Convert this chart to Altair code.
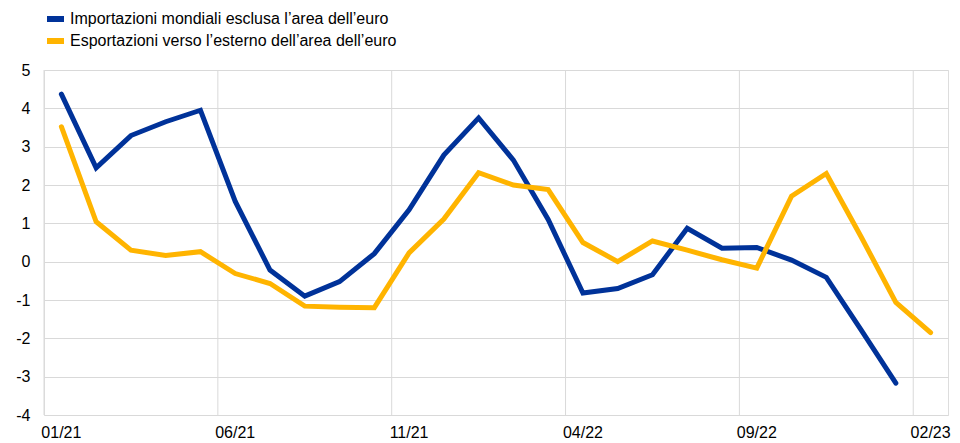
import altair as alt
import pandas as pd

months = ["01/21", "02/21", "03/21", "04/21", "05/21", "06/21", "07/21", "08/21",
          "09/21", "10/21", "11/21", "12/21", "01/22", "02/22", "03/22", "04/22",
          "05/22", "06/22", "07/22", "08/22", "09/22", "10/22", "11/22", "12/22",
          "01/23", "02/23"]

imports_world = [4.37, 2.45, 3.29, 3.65, 3.95, 1.57, -0.22, -0.90, -0.52, 0.21,
                 1.35, 2.78, 3.75, 2.65, 1.10, -0.82, -0.70, -0.34, 0.87, 0.35,
                 0.37, 0.04, -0.41, -1.78, -3.17, None]
exports_extra = [3.52, 1.04, 0.30, 0.16, 0.26, -0.31, -0.57, -1.16, -1.19, -1.20,
                 0.23, 1.11, 2.32, 2.00, 1.88, 0.50, 0.00, 0.54, 0.30, 0.05,
                 -0.17, 1.71, 2.30, 0.65, -1.06, -1.85]

s1 = "Importazioni mondiali esclusa l\u2019area dell\u2019euro"
s2 = "Esportazioni verso l\u2019esterno dell\u2019area dell\u2019euro"
label_months = ["01/21", "06/21", "11/21", "04/22", "09/22", "02/23"]

rows = []
for m, a, b in zip(months, imports_world, exports_extra):
    if a is not None:
        rows.append({"mese": m, "serie": s1, "valore": a})
    if b is not None:
        rows.append({"mese": m, "serie": s2, "valore": b})
df = pd.DataFrame(rows)
grid_df = pd.DataFrame({"mese": label_months})

FONT = "Liberation Sans"
xscale = alt.Scale(domain=months, paddingInner=0, paddingOuter=0)
xaxis = alt.Axis(values=label_months, labelAngle=0, domain=False, ticks=False,
                 grid=False, labelFont=FONT, labelFontSize=16,
                 labelColor="#000000", labelPadding=9)

x = alt.X("mese:O", sort=months, title=None, scale=xscale, axis=xaxis)
y = alt.Y("valore:Q", title=None,
          scale=alt.Scale(domain=[-4, 5], nice=False, zero=False),
          axis=alt.Axis(values=list(range(-4, 6)), domain=False, ticks=False,
                        gridColor="#d9d9d9", gridWidth=1,
                        labelExpr="'' + datum.value",
                        labelFont=FONT, labelFontSize=16, labelColor="#000000",
                        labelPadding=14))
color = alt.Color("serie:N", title=None,
                  scale=alt.Scale(domain=[s1, s2], range=["#003299", "#FFB400"]),
                  legend=alt.Legend(orient="none", legendX=0, legendY=-59,
                                    direction="vertical", symbolType="stroke",
                                    symbolStrokeWidth=6, symbolSize=289,
                                    clipHeight=16,
                                    labelFont=FONT, labelFontSize=16, labelColor="#000000",
                                    labelOffset=3, rowPadding=6, padding=0,
                                    labelLimit=600))

grid = alt.Chart(grid_df).mark_rule(color="#d9d9d9", strokeWidth=1).encode(
    x=alt.X("mese:O", sort=months, title=None, scale=xscale, bandPosition=0, axis=xaxis),
)

base = alt.Chart(df).mark_line(strokeWidth=5, strokeCap="round").encode(x=x, y=y, color=color)
blue = base.transform_filter(alt.datum.serie == s1)
yellow = base.transform_filter(alt.datum.serie == s2)

chart = alt.layer(grid, blue, yellow).properties(
    width=904, height=345,
    autosize=alt.AutoSizeParams(type="none"),
    padding={"left": 36, "top": 62, "right": 4, "bottom": 28},
).configure_view(stroke=None).configure(background="#ffffff")

chart.save("out.html", embed_options={"renderer": "svg", "actions": False})
